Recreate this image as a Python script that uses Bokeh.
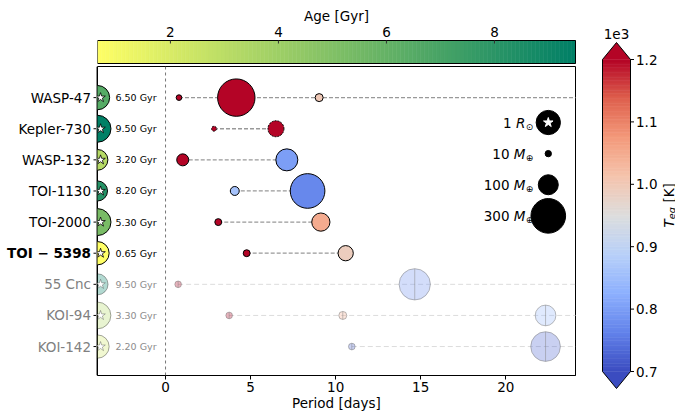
import numpy as np
from bokeh.plotting import figure
from bokeh.models import ColumnDataSource, Span, FixedTicker, Spacer, Range1d
from bokeh.layouts import row, column
from bokeh.core.properties import value
from bokeh.embed import file_html
from bokeh.resources import INLINE

FONT = "DejaVu Sans"

# ---- data ----
systems = ["WASP-47", "Kepler-730", "WASP-132", "TOI-1130", "TOI-2000",
           "TOI \u2212 5398", "55 Cnc", "KOI-94", "KOI-142"]
ages = [6.50, 9.50, 3.20, 8.20, 5.30, 0.65, 9.50, 3.30, 2.20]
star_radius = [1.0, 1.23, 0.73, 0.68, 1.23, 0.92, 0.75, 1.21, 0.92]  # R_sun
muted = [False, False, False, False, False, False, True, True, True]
outer_period = [588.5, 6.49, 7.13, 8.35, 9.13, 10.59, 260.7, 54.3, 57.0]

planet_system = [0, 0, 0, 1, 1, 2, 2, 3, 3, 4, 4, 5, 5, 6, 6, 7, 7, 7, 8, 8]
planet_period = [0.79, 4.16, 9.03, 2.85, 6.49, 1.01, 7.13, 4.07, 8.35, 3.10,
                 9.13, 4.77, 10.59, 0.74, 14.65, 3.74, 10.42, 22.34, 10.95, 22.34]
planet_mass = [8, 350, 16, 6, 64, 36, 121, 20, 300, 12,
               83, 12, 58, 11, 245, 11, 16, 107, 11, 220]
planet_teq = [2200, 1280, 1000, 1500, 1250, 1800, 800, 860, 770, 1600,
              1050, 1500, 990, 2000, 780, 1500, 1050, 840, 725, 725]
planet_dashed = [False, False, False, True, True] + [False] * 15

legend_labels = ["1", "10", "100", "300"]
legend_letters = ["R", "M", "M", "M"]
legend_subs = ["\u2299", "\u2295", "\u2295", "\u2295"]
legend_mass = [None, 10, 100, 300]

age_ticks = [2, 4, 6, 8]
teq_ticks = [0.7, 0.8, 0.9, 1.0, 1.1, 1.2]

AGE_LO, AGE_HI = 0.65, 9.5
TEQ_LO, TEQ_HI = 700, 1200

COOLWARM = [(59, 76, 192), (98, 130, 234), (141, 176, 254), (184, 208, 249),
            (221, 221, 221), (245, 196, 173), (244, 154, 123), (222, 96, 77),
            (180, 4, 38)]


def coolwarm(t):
    t = min(max(t, 0.0), 1.0) * (len(COOLWARM) - 1)
    i = min(int(t), len(COOLWARM) - 2)
    f = t - i
    a, b = COOLWARM[i], COOLWARM[i + 1]
    return "#%02x%02x%02x" % tuple(int(round(a[k] + (b[k] - a[k]) * f)) for k in range(3))


def summer_r(t):
    t = min(max(t, 0.0), 1.0)
    return "#%02x%02x%02x" % (int(round(255 * (1 - t))), int(round(255 * (1 - 0.5 * t))), 102)


def age_color(a):
    return summer_r((a - AGE_LO) / (AGE_HI - AGE_LO))


def teq_color(t):
    return coolwarm((t - TEQ_LO) / (TEQ_HI - TEQ_LO))


def style_text(r, size="13.5px"):
    r.glyph.text_font = value(FONT)
    r.glyph.text_font_size = size


def bare_figure(**kw):
    f = figure(output_backend="svg", toolbar_location=None, frame_align=False,
               min_border_left=0, min_border_right=0, min_border_top=0,
               min_border_bottom=0, **kw)
    f.axis.visible = False
    f.grid.visible = False
    f.outline_line_color = None
    return f


# ---- main panel ----
X0, X1 = -4.0, 24.1
sys_y = [8 - i for i in range(len(systems))]
yr = Range1d(-0.93, 9.0)

p = figure(width=501, height=352, x_range=(X0, X1), y_range=yr,
           output_backend="svg", toolbar_location=None, frame_align=False,
           min_border_left=0, min_border_right=23, min_border_top=2, min_border_bottom=41)
p.grid.visible = False
p.outline_line_color = "black"
p.yaxis.visible = False

p.xaxis.ticker = FixedTicker(ticks=[0, 5, 10, 15, 20])
p.xaxis.axis_label = "Period [days]"
p.xaxis.axis_label_text_font = FONT
p.xaxis.axis_label_text_font_style = "normal"
p.xaxis.axis_label_text_font_size = "13.5px"
p.xaxis.axis_label_text_color = "black"
p.xaxis.axis_label_standoff = 0
p.xaxis.major_label_text_font = FONT
p.xaxis.major_label_text_font_size = "13.5px"
p.xaxis.major_label_text_color = "black"
p.xaxis.major_label_standoff = 2
p.xaxis.major_tick_out = 4
p.xaxis.major_tick_in = 0
p.xaxis.minor_tick_line_color = None
p.xaxis.axis_line_color = "black"

p.add_layout(Span(location=0, dimension="height", line_color="#777777",
                  line_dash="3 3", line_width=1))

# connecting dashed lines
for is_muted, col, dash, lw in [(False, "#999999", "4 2", 1.3), (True, "#dcdcdc", "5 3", 1.0)]:
    xs0, xs1, ys = [], [], []
    for i in range(len(systems)):
        if muted[i] != is_muted:
            continue
        per = [planet_period[j] for j in range(len(planet_period)) if planet_system[j] == i]
        xs0.append(min(per))
        xs1.append(outer_period[i])
        ys.append(sys_y[i])
    p.segment(x0=xs0, y0=ys, x1=xs1, y1=ys, line_color=col, line_dash=dash, line_width=lw)

# planets
groups = {"solid": [], "dashed": [], "muted": []}
for j in range(len(planet_period)):
    s = planet_system[j]
    key = "muted" if muted[s] else ("dashed" if planet_dashed[j] else "solid")
    groups[key].append(j)


def planet_source(idx):
    return ColumnDataSource(dict(
        x=[planet_period[j] for j in idx],
        y=[sys_y[planet_system[j]] for j in idx],
        size=[2.0 * np.sqrt(planet_mass[j]) for j in idx],
        color=[teq_color(planet_teq[j]) for j in idx],
    ))


src_m = planet_source(groups["muted"])
p.scatter("x", "y", size="size", source=src_m, fill_color="color", fill_alpha=0.3,
          line_color="#777777", line_alpha=0.5, line_width=1)
p.scatter("x", "y", size="size", source=src_m, marker="dash", angle=np.pi / 2,
          line_color="#888888", line_alpha=0.5, line_width=1)
p.scatter("x", "y", size="size", source=planet_source(groups["solid"]),
          fill_color="color", line_color="black", line_width=1)
p.scatter("x", "y", size="size", source=planet_source(groups["dashed"]),
          fill_color="color", line_color="black", line_width=1, line_dash="2 1")

# host stars at the left edge
star_src = ColumnDataSource(dict(
    x=[X0] * len(systems), xs=[X0 + 0.18] * len(systems), y=sys_y,
    size=[24.3 * np.sqrt(r) for r in star_radius],
    color=[age_color(a) for a in ages],
    alpha=[0.3 if m else 1.0 for m in muted],
    lalpha=[0.35 if m else 1.0 for m in muted],
    text=["%.2f Gyr" % a for a in ages],
    tcolor=["#8c8c8c" if m else "black" for m in muted],
))
p.scatter("x", "y", size="size", source=star_src, fill_color="color", fill_alpha="alpha",
          line_color="black", line_alpha="lalpha", line_width=1)
p.scatter("xs", "y", size=10, marker="star", source=star_src, fill_color="white",
          line_color="black", line_alpha="lalpha", line_width=0.8)
r = p.text("x", "y", text="text", source=star_src, x_offset=18, text_baseline="middle",
           text_align="left", text_color="tcolor")
style_text(r, "9.5px")

# size legend
LX = 22.5
leg_y = [7.2 - i for i in range(len(legend_labels))]
leg_size = [24.3 if m is None else 2.0 * np.sqrt(m) for m in legend_mass]
p.scatter([LX] * 4, leg_y, size=leg_size, fill_color="black", line_color="black")
p.scatter([LX], [leg_y[0]], size=10, marker="star", fill_color="white", line_color="white")
sub_w = 8.0
let_w = [9.5 if l == "R" else 11.5 for l in legend_letters]
r = p.text([LX] * 4, leg_y, text=legend_subs, x_offset=-15, y_offset=4,
           text_align="right", text_baseline="middle", text_color="black")
style_text(r, "9px")
r = p.text([LX] * 4, leg_y, text=legend_letters, x_offset=-15 - sub_w,
           text_align="right", text_baseline="middle", text_color="black",
           text_font_style="italic")
style_text(r)
r = p.text([LX] * 4, leg_y, text=[t + " " for t in legend_labels],
           x_offset=[-15 - sub_w - w for w in let_w],
           text_align="right", text_baseline="middle", text_color="black")
style_text(r)

# ---- system names + left spine and ticks (shares the y range) ----
names = bare_figure(width=97, height=352, x_range=(0, 97), y_range=yr)
names.min_border_top = 2
names.min_border_bottom = 41
names.segment(x0=93, y0=sys_y, x1=97, y1=sys_y, line_color="black", line_width=1)
names.segment(x0=[96.3], y0=[yr.start], x1=[96.3], y1=[yr.end], line_color="#888888",
              line_width=1.5)
r = names.text([90.5] * len(systems), sys_y, text=systems, text_align="right",
               text_baseline="middle",
               text_color=["#808080" if m else "black" for m in muted],
               text_font_style=["bold" if "5398" in s else "normal" for s in systems])
style_text(r)

# ---- age colour bar (top) ----
A_PPU = 478.0 / (AGE_HI - AGE_LO)
top = bare_figure(width=501, height=64,
                  x_range=(AGE_LO, AGE_HI + 23 / A_PPU), y_range=(0, 64))
n = 120
edges = np.linspace(AGE_LO, AGE_HI, n + 1)
cols = [summer_r((k + 0.5) / n) for k in range(n)]
top.quad(left=edges[:-1], right=edges[1:], bottom=1, top=24, fill_color=cols, line_color=cols,
         line_width=0.6)
top.quad(left=[AGE_LO], right=[AGE_HI], bottom=1, top=24, fill_color=None, line_color="black",
         line_width=1)
top.segment(x0=age_ticks, y0=24, x1=age_ticks, y1=21, line_color="#333333", line_width=1)
r = top.text(age_ticks, [33] * len(age_ticks), text=[str(t) for t in age_ticks],
             text_align="center", text_baseline="middle", text_color="black")
style_text(r)
r = top.text([(AGE_LO + AGE_HI) / 2], [49], text=["Age [Gyr]"],
             text_align="center", text_baseline="middle", text_color="black")
style_text(r)

# ---- Teq colour bar (right) ----
T_PPU = 624.0
tlo, thi = TEQ_LO / 1000, TEQ_HI / 1000
ext = 17 / T_PPU
right = bare_figure(width=77, height=416, x_range=(0, 77),
                    y_range=(tlo - 45 / T_PPU, thi + 59 / T_PPU))
edges = np.linspace(tlo, thi, n + 1)
cols = [coolwarm((k + 0.5) / n) for k in range(n)]
right.quad(left=4, right=32, bottom=edges[:-1], top=edges[1:], fill_color=cols,
           line_color=cols, line_width=0.6)
right.patches(xs=[[4, 32, 18], [4, 32, 18]],
              ys=[[thi, thi, thi + ext], [tlo, tlo, tlo - ext]],
              fill_color=[coolwarm(1.0), coolwarm(0.0)], line_color=None)
right.patch([4, 18, 32, 32, 18, 4], [tlo, tlo - ext, tlo, thi, thi + ext, thi],
            fill_color=None, line_color="black", line_width=1)
right.segment(x0=32, y0=teq_ticks, x1=35.5, y1=teq_ticks, line_color="black", line_width=1)
r = right.text([37.5] * len(teq_ticks), teq_ticks, text=["%.1f" % t for t in teq_ticks],
               text_align="left", text_baseline="middle", text_color="black")
style_text(r)
r = right.text([18], [thi + 26 / T_PPU], text=["1e3"], text_align="center",
               text_baseline="middle", text_color="black")
style_text(r)
ly = thi - (227 - 59) / T_PPU
r = right.text([70], [ly], text=["T"], angle=np.pi / 2, text_align="left",
               text_baseline="middle", text_color="black", text_font_style="italic")
style_text(r)
r = right.text([72.5], [ly + 8.3 / T_PPU], text=["eq"], angle=np.pi / 2, text_align="left",
               text_baseline="middle", text_color="black", text_font_style="italic")
style_text(r, "9.5px")
r = right.text([70], [ly + 25 / T_PPU], text=["[K]"], angle=np.pi / 2, text_align="left",
               text_baseline="middle", text_color="black")
style_text(r)

layout = row(column(Spacer(width=97, height=64), names), column(top, p), right)
open("out.html", "w").write(file_html(layout, INLINE))
